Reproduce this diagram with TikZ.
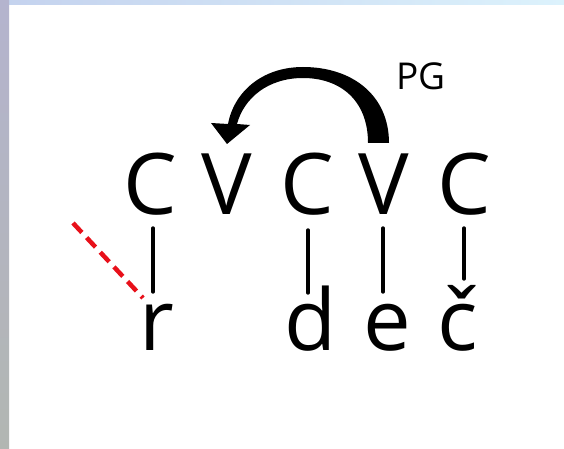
\documentclass[tikz,border=0pt]{standalone}
\usepackage{fontspec}
\setmainfont{Open Sans}
\begin{document}
\begin{tikzpicture}[x=1pt,y=-1pt,
  big/.style={inner sep=0pt,anchor=base,font=\fontsize{85}{85}\selectfont},
  lbl/.style={inner sep=0pt,anchor=base,font=\fontsize{37}{37}\selectfont},
  assoc/.style={line width=3.4pt,line cap=round},
  delink/.style={line width=4.5pt,draw={rgb,255:red,232;green,16;blue,26},dash pattern=on 13pt off 7pt}]
\useasboundingbox (0,0) rectangle (564,449);
\fill[white] (0,0) rectangle (564,449);
\shade[left color={rgb,255:red,196;green,210;blue,238},right color={rgb,255:red,220;green,242;blue,252}] (0,0) rectangle (564,5);
\shade[top color={rgb,255:red,180;green,180;blue,206},bottom color={rgb,255:red,178;green,182;blue,178}] (0,0) rectangle (9,449);
% top row
\node[big] (c1) at (150,214) {C};
\node[big] (v1) at (227,214) {V};
\node[big] (c2) at (307,214) {C};
\node[big] (v2) at (384,214) {V};
\node[big] (c3) at (464,214) {C};
% bottom row
\node[big] (r) at (157,350) {r};
\node[big] (d) at (311,350) {d};
\node[big] (e) at (387,350) {e};
\node[big] (cc) at (458,350) {č};
% label
\node[lbl] (pg) at (421,90) {PG};
% association lines
\draw[assoc] ([shift={(3,14)}]c1.base) -- ([shift={(-4,-58)}]r.base);
\draw[assoc] ([shift={(1,16)}]c2.base) -- ([shift={(-3,-57)}]d.base);
\draw[assoc] ([shift={(-1,14)}]v2.base) -- ([shift={(-4,-58)}]e.base);
\draw[assoc] ([shift={(0,14)}]c3.base) -- ([shift={(6,-71)}]cc.base);
% delinking
\coordinate (dl) at (73,223);
\draw[delink] (dl) -- ([shift={(-14,-52)}]r.base);
% spreading arrow
\fill (389,143) .. controls (389,95) and (352,67) .. (303,67)
  .. controls (262,67) and (234,92) .. (228,124)
  -- (211,123) -- (227,144) -- (250,125) -- (237,124)
  .. controls (244,98) and (268,78) .. (303,78)
  .. controls (340,78) and (368,100) .. (368,143) -- cycle;
\end{tikzpicture}
\end{document}
